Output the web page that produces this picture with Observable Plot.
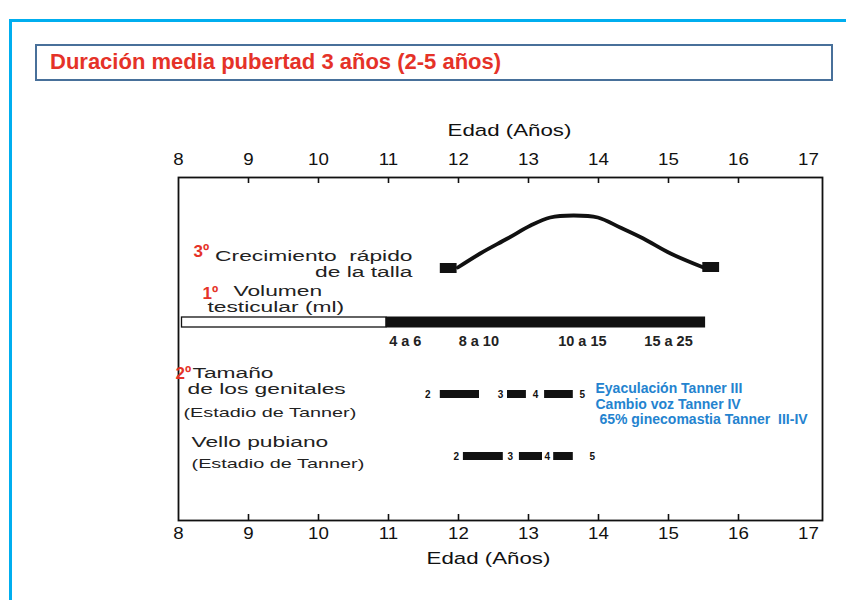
<!DOCTYPE html>
<html>
<head>
<meta charset="utf-8">
<script src="https://cdn.jsdelivr.net/npm/d3@7"></script>
<script src="https://cdn.jsdelivr.net/npm/@observablehq/plot@0.6"></script>
<style>
  html, body { margin: 0; padding: 0; background: #fff; }
  #page { position: relative; width: 846px; height: 600px; overflow: hidden; font-family: "Liberation Sans", Arial, sans-serif; }
  #edgeLeft { position: absolute; left: 9px; top: 19px; width: 3px; height: 600px; background: #00aeef; }
  #edgeTop { position: absolute; left: 9px; top: 19px; width: 846px; height: 3px; background: #00aeef; }
  #titleBox { position: absolute; left: 35px; top: 44px; width: 794px; height: 33px; border: 2px solid #48709a; box-sizing: content-box; }
  #title { position: absolute; left: 13px; top: 3px; color: #e53228; font-weight: bold; font-size: 22px; white-space: nowrap; }
  #chart { position: absolute; left: 0; top: 0; }
  #chart text { white-space: pre; }
</style>
</head>
<body>
<div id="page">
  <div id="chart"></div>
  <div id="edgeLeft"></div>
  <div id="edgeTop"></div>
  <div id="titleBox"><div id="title">Duración media pubertad 3 años (2-5 años)</div></div>
</div>
<script>
// ---- data ----
const ageTicks = [8, 9, 10, 11, 12, 13, 14, 15, 16, 17];
const axisTitle = "Edad (Años)";

// growth spurt curve (age, relative height velocity)
const growthAge   = [11.99, 12.31, 12.70, 13.03, 13.31, 13.64, 13.99, 14.31, 14.64, 15.03, 15.50];
const growthValue = [253,   267,   282,   295,   303,   305,   303,   293,   282,   267,   253];
const growthEndAges = [11.86, 15.61];
const growthEndValues = [252, 253];

// testicular volume
const testicularPreAge = [8.05, 10.97];
const testicularAge = [10.97, 15.53];
const testicularLabels = ["4 a 6", "8 a 10", "10 a 15", "15 a 25"];
const testicularLabelAges = [11.24, 12.29, 13.77, 15.0];

// genital size Tanner stages
const genitalStages = ["2", "3", "4", "5"];
const genitalStageAges = [11.56, 12.6, 13.1, 13.77];
const genitalBarStart = [11.74, 12.7, 13.23];
const genitalBarEnd = [12.3, 12.97, 13.64];

// pubic hair Tanner stages
const pubicStages = ["2", "3", "4", "5"];
const pubicStageAges = [11.97, 12.74, 13.27, 13.91];
const pubicBarStart = [12.07, 12.87, 13.36];
const pubicBarEnd = [12.64, 13.2, 13.64];

const notes = ["Eyaculación Tanner III", "Cambio voz Tanner IV", "\u00a065% ginecomastia Tanner\u00a0 III-IV"];

// ---- layout constants (rows, in y units) ----
const rowTestis = [193, 203];
const rowGenital = 126;
const rowPubic = 64;

const growth = growthAge.map((a, i) => ({age: a, v: growthValue[i]}));
const growthEnds = growthEndAges.map((a, i) => ({age: a, v: growthEndValues[i]}));
const genitalBars = genitalBarStart.map((s, i) => ({x1: s, x2: genitalBarEnd[i]}));
const pubicBars = pubicBarStart.map((s, i) => ({x1: s, x2: pubicBarEnd[i]}));
const innerTicks = ageTicks.filter(t => t > 8 && t < 17);

const font = "Liberation Sans, Arial, sans-serif";

const endTexts = [
  {x: 11.343, y: 264, t: "Crecimiento\u00a0 rápido"},
  {x: 11.343, y: 248, t: "de la talla"}
];
const startTexts = [
  {x: 8.786, y: 229, t: "Volumen", s: 15.5},
  {x: 8.414, y: 213, t: "testicular (ml)", s: 15.5},
  {x: 8.2, y: 147, t: "Tamaño", s: 15.5},
  {x: 8.129, y: 131, t: "de los genitales", s: 15.5},
  {x: 8.071, y: 108, t: "(Estadio de Tanner)", s: 13.5},
  {x: 8.186, y: 78, t: "Vello pubiano", s: 15.5},
  {x: 8.186, y: 57, t: "(Estadio de Tanner)", s: 13.5}
];
const redTexts = [
  {x: 8.214, y: 269, t: "3º"},
  {x: 8.343, y: 227, t: "1º"},
  {x: 7.957, y: 147, t: "2º"}
];

const chart = Plot.plot({
  width: 846,
  height: 600,
  marginLeft: 178,
  marginRight: 24,
  marginTop: 177,
  marginBottom: 80,
  style: {fontFamily: font, fontSize: "16px", color: "#111", background: "transparent"},
  x: {domain: [8, 17.2], axis: null},
  y: {domain: [0, 343], axis: null},
  marks: [
    Plot.frame({stroke: "#111", strokeWidth: 1.8}),
    Plot.axisX({anchor: "top", ticks: ageTicks, tickSize: 0, tickPadding: 13, tickFormat: d => String(d), fontSize: 17, label: null}),
    Plot.axisX({anchor: "bottom", ticks: ageTicks, tickSize: 0, tickPadding: 6, tickFormat: d => String(d), fontSize: 17, label: null}),
    Plot.text([axisTitle], {frameAnchor: "top", lineAnchor: "middle", dy: -47, dx: 9, fontSize: 16.5, text: d => d, ariaDescription: "wide2"}),
    Plot.text([axisTitle], {frameAnchor: "bottom", lineAnchor: "middle", dy: 38, dx: -12, fontSize: 16.5, text: d => d, ariaDescription: "wide2"}),
    Plot.ruleX(innerTicks, {x: d => d, y1: 0, y2: 6, stroke: "#111", strokeWidth: 1.6}),
    Plot.ruleX(innerTicks, {x: d => d, y1: 337, y2: 343, stroke: "#111", strokeWidth: 1.6}),
    // growth curve
    Plot.line(growth, {x: "age", y: "v", curve: "catmull-rom", stroke: "#111", strokeWidth: 3.8}),
    Plot.rect(growthEnds, {x1: d => d.age - 0.12, x2: d => d.age + 0.12, y1: d => d.v - 5, y2: d => d.v + 5, fill: "#111"}),
    // testicular volume
    Plot.rect([testicularPreAge], {x1: d => d[0], x2: d => d[1], y1: rowTestis[0], y2: rowTestis[1], fill: "white", stroke: "#111", strokeWidth: 1.3}),
    Plot.rect([testicularAge], {x1: d => d[0], x2: d => d[1], y1: rowTestis[0] - 0.5, y2: rowTestis[1] + 0.5, fill: "#111"}),
    Plot.text(testicularLabels, {x: (d, i) => testicularLabelAges[i], y: 179, text: d => d, fontSize: 14.5, fontWeight: "bold", fill: "#222"}),
    // genital stages
    Plot.rect(genitalBars, {x1: "x1", x2: "x2", y1: rowGenital - 4, y2: rowGenital + 4, fill: "#111"}),
    Plot.text(genitalStages, {x: (d, i) => genitalStageAges[i], y: rowGenital, text: d => d, fontSize: 10, fontWeight: "bold"}),
    // pubic stages
    Plot.rect(pubicBars, {x1: "x1", x2: "x2", y1: rowPubic - 4, y2: rowPubic + 4, fill: "#111"}),
    Plot.text(pubicStages, {x: (d, i) => pubicStageAges[i], y: rowPubic, text: d => d, fontSize: 10, fontWeight: "bold"}),
    // labels
    Plot.text(endTexts, {x: "x", y: "y", text: "t", textAnchor: "end", fontSize: 15.5, fill: "#222", ariaDescription: "wide"}),
    Plot.text(startTexts, {x: "x", y: "y", text: "t", textAnchor: "start", fontSize: "s", fill: "#222", ariaDescription: "wide"}),
    Plot.text(redTexts, {x: "x", y: "y", text: "t", textAnchor: "start", fontSize: 17, fontWeight: "bold", fill: "#e53228"}),
    Plot.text(notes, {x: 13.957, y: (d, i) => [132, 116, 101][i], text: d => d, textAnchor: "start", fontSize: 14, fontWeight: "bold", fill: "#2483cf"})
  ]
});

// stretch the scanned-looking lettering horizontally (append a scale to each text's own transform)
function stretch(selection, k) {
  selection.each(function () {
    const t = this.getAttribute("transform") || "";
    this.setAttribute("transform", `${t} scale(${k},1)`);
  });
}
const svg = d3.select(chart);
stretch(svg.selectAll('g[aria-description="wide"] text'), 1.47);
stretch(svg.selectAll('g[aria-description="wide2"] text'), 1.35);
stretch(svg.selectAll('g[aria-label="x-axis tick label"] text'), 1.1);

document.getElementById("chart").appendChild(chart);
</script>
</body>
</html>
